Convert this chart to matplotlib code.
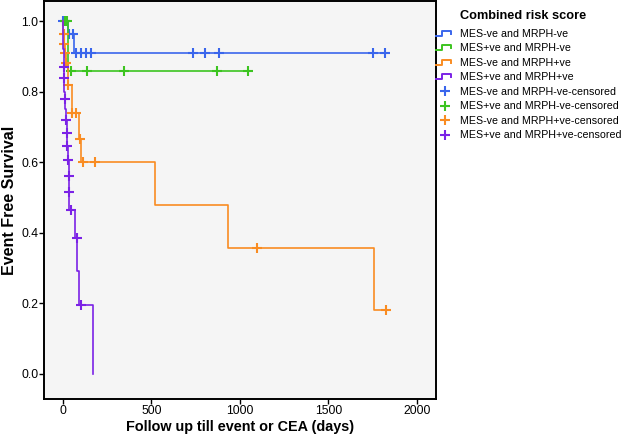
import matplotlib
matplotlib.use("Agg")
import matplotlib.pyplot as plt
from matplotlib.legend_handler import HandlerBase
from matplotlib.lines import Line2D

plt.rcParams['font.family'] = ['Liberation Sans', 'DejaVu Sans']

# group labels
groups = ['MES-ve and MRPH-ve', 'MES+ve and MRPH-ve',
          'MES-ve and MRPH+ve', 'MES+ve and MRPH+ve']
colors = ['#3a66ec', '#3cc420', '#f98c22', '#7b22e6']

# step curves: survival holds from times[i] until times[i+1]; last segment ends at end time
blue_times = [0, 28, 62]
blue_surv = [1.0, 0.962, 0.908]
blue_end = 1818
blue_cens_t = [0, 10, 34, 55, 72, 100, 129, 157, 734, 801, 883, 1750, 1818]
blue_cens_s = [1.0, 1.0, 0.962, 0.962, 0.908, 0.908, 0.908, 0.908, 0.908, 0.908, 0.908, 0.908, 0.908]

green_times = [0, 26]
green_surv = [1.0, 0.859]
green_end = 1044
green_cens_t = [11, 24, 47, 134, 347, 873, 1044]
green_cens_s = [1.0, 1.0, 0.859, 0.859, 0.859, 0.859, 0.859]

orange_times = [0, 2, 5, 10, 17, 28, 49, 91, 104, 519, 932, 1761]
orange_surv = [1.0, 0.962, 0.934, 0.908, 0.88, 0.82, 0.74, 0.667, 0.60, 0.478, 0.358, 0.18]
orange_end = 1828
orange_cens_t = [3, 6, 11, 19, 30, 53, 75, 95, 114, 180, 1095, 1828]
orange_cens_s = [0.962, 0.934, 0.908, 0.88, 0.82, 0.74, 0.74, 0.667, 0.60, 0.60, 0.358, 0.18]

purple_times = [0, 1, 2, 3, 5, 8, 11, 13, 16, 20, 24, 28, 31, 34, 36, 66, 80, 91, 172]
purple_surv = [1.0, 0.96, 0.92, 0.869, 0.839, 0.80, 0.78, 0.75, 0.719, 0.683, 0.646,
               0.606, 0.56, 0.515, 0.464, 0.386, 0.292, 0.196, 0.0]
purple_end = 172
purple_cens_t = [3, 5, 11, 16, 20, 24, 28, 32, 34, 45, 76, 104]
purple_cens_s = [0.869, 0.839, 0.78, 0.719, 0.683, 0.646, 0.606, 0.56, 0.515, 0.464, 0.386, 0.196]

curves = [
    (blue_times, blue_surv, blue_end, blue_cens_t, blue_cens_s),
    (green_times, green_surv, green_end, green_cens_t, green_cens_s),
    (orange_times, orange_surv, orange_end, orange_cens_t, orange_cens_s),
    (purple_times, purple_surv, purple_end, purple_cens_t, purple_cens_s),
]


class StepHandler(HandlerBase):
    # little step-shaped icon like the SPSS legend
    def create_artists(self, legend, orig_handle, xdescent, ydescent,
                       width, height, fontsize, trans):
        x0, y0 = -xdescent, -ydescent
        xs = [x0, x0 + 0.3 * width, x0 + 0.3 * width, x0 + 0.85 * width, x0 + 0.85 * width]
        ys = [y0 + 0.15 * height, y0 + 0.15 * height, y0 + 0.85 * height,
              y0 + 0.85 * height, y0 + 0.45 * height]
        ln = Line2D(xs, ys, color=orig_handle.get_color(), lw=1.4, transform=trans)
        return [ln]


fig = plt.figure(figsize=(6.22, 4.36), dpi=100)
ax = fig.add_axes([0.0707, 0.0849, 0.630, 0.913])
ax.set_facecolor('#f5f5f5')

step_handles = []
cens_handles = []
for (t, s, end, ct, cs), c, g in zip(curves, colors, groups):
    xs = list(t) + [end]
    ys = list(s) + [s[-1]]
    ln, = ax.step(xs, ys, where='post', color=c, lw=1.2, label=g)
    step_handles.append(ln)
    mk, = ax.plot(ct, cs, linestyle='none', marker='+', markersize=7,
                  markeredgewidth=1.5, color=c, label=g + '-censored')
    cens_handles.append(mk)

ax.set_xlim(-108, 2108)
ax.set_ylim(-0.071, 1.057)
ax.set_xticks([0, 500, 1000, 1500, 2000])
ax.set_yticks([0.0, 0.2, 0.4, 0.6, 0.8, 1.0])
ax.set_yticklabels(['0.0', '0.2', '0.4', '0.6', '0.8', '1.0'])
ax.tick_params(labelsize=8.8, direction='out', length=3.5, width=1, pad=0.5)
for sp in ax.spines.values():
    sp.set_linewidth(1.4)

ax.set_xlabel('Follow up till event or CEA (days)', fontsize=10.4, fontweight='bold')
ax.set_ylabel('Event Free Survival', fontsize=11.5, fontweight='bold')
ax.xaxis.set_label_coords(0.5, -0.053)
ax.yaxis.set_label_coords(-0.069, 0.5)

handler_map = {h: StepHandler() for h in step_handles}
leg = fig.legend(step_handles + cens_handles,
                 [h.get_label() for h in step_handles + cens_handles],
                 handler_map=handler_map, loc='upper left',
                 bbox_to_anchor=(0.686, 1.0), frameon=False, fontsize=7.7,
                 handlelength=1.65, handletextpad=0.6, labelspacing=0.42,
                 title='Combined risk score',
                 title_fontproperties={'weight': 'bold', 'size': 9.2})
leg._legend_box.align = 'left'
leg._legend_box.sep += 2
leg.get_title().set_position((24, 0))

fig.savefig('out.png', dpi=100)
